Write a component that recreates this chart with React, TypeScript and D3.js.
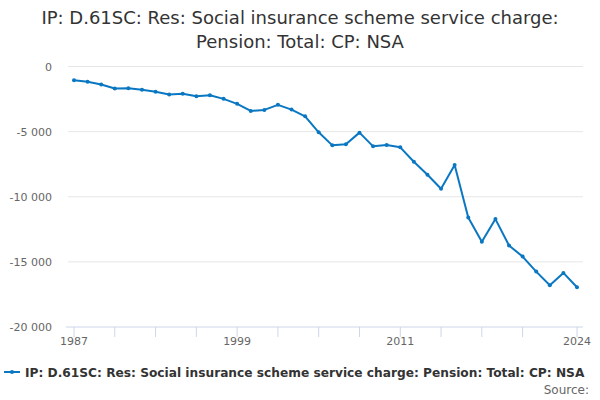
import { useRef, useEffect } from 'react';
import * as d3 from 'd3';

// Annual values, 1987–2024
const YEARS = d3.range(1987, 2025);
const VALUES = [
  -1054, -1177, -1385, -1692, -1669, -1792, -1946, -2154, -2100, -2285,
  -2208, -2485, -2869, -3408, -3331, -2946, -3308, -3823, -5054, -6054,
  -5977, -5077, -6131, -6023, -6208, -7308, -8308, -9385, -7562, -11592,
  -13462, -11715, -13746, -14592, -15746, -16792, -15846, -16946,
];
const Y_TICKS = [0, -5000, -10000, -15000, -20000];
const X_TICKS = [1987, 1990, 1993, 1996, 1999, 2002, 2005, 2008, 2011, 2014, 2017, 2020, 2024];
const X_LABELS = [1987, 1999, 2011, 2024];

const TITLE = ['IP: D.61SC: Res: Social insurance scheme service charge:', 'Pension: Total: CP: NSA'];
const SERIES = 'IP: D.61SC: Res: Social insurance scheme service charge: Pension: Total: CP: NSA';
const COLOR = '#0a77c2';
const FONT = '"DejaVu Sans", sans-serif';

export default function App() {
  const ref = useRef<SVGSVGElement>(null);

  useEffect(() => {
    const svg = ref.current;
    if (!svg) return;
    const W = 600, H = 400;
    const padL = 66, padR = 17, padT = 66.5, padB = 73;

    d3.select(svg).selectAll('*').remove();
    const g = d3.select(svg).attr('viewBox', `0 0 ${W} ${H}`).append('g');

    const x = d3.scaleLinear().domain([1987, 2024]).range([74, 577]);
    const y = d3.scaleLinear().domain([0, -20000]).range([padT, H - padB]);

    // Title
    TITLE.forEach((t, i) => {
      g.append('text').attr('x', W / 2).attr('y', 24 + i * 24).attr('text-anchor', 'middle')
        .attr('font-size', 18).attr('font-family', FONT).attr('fill', '#333333').text(t);
    });

    // Grid + y labels
    Y_TICKS.forEach((v) => {
      if (v !== -20000) {
        g.append('line').attr('x1', 68).attr('x2', W - padR).attr('y1', y(v)).attr('y2', y(v))
          .attr('stroke', '#e6e6e6').attr('stroke-width', 1);
      }
      g.append('text').attr('x', 52).attr('y', y(v) + 4).attr('text-anchor', 'end')
        .attr('font-size', 11).attr('font-family', FONT).attr('fill', '#666666')
        .text(d3.format(',')(v).replace(',', ' ').replace('−', '-'));
    });

    // X axis
    const axisY = y(-20000);
    g.append('line').attr('x1', padL).attr('x2', W - padR).attr('y1', axisY).attr('y2', axisY)
      .attr('stroke', '#ccd6eb').attr('stroke-width', 1);
    X_TICKS.forEach((v) => {
      g.append('line').attr('x1', x(v)).attr('x2', x(v)).attr('y1', axisY).attr('y2', axisY + 10)
        .attr('stroke', '#ccd6eb').attr('stroke-width', 1);
    });
    X_LABELS.forEach((v) => {
      g.append('text').attr('x', x(v)).attr('y', axisY + 18).attr('text-anchor', 'middle')
        .attr('font-size', 11).attr('font-family', FONT).attr('fill', '#666666').text(v);
    });

    // Series
    const data = YEARS.map((yr, i) => ({ yr, v: VALUES[i] }));
    const line = d3.line<(typeof data)[0]>().x((d) => x(d.yr)).y((d) => y(d.v));
    g.append('path').datum(data).attr('d', line).attr('fill', 'none')
      .attr('stroke', COLOR).attr('stroke-width', 2).attr('stroke-linejoin', 'round');
    g.selectAll('circle.pt').data(data).enter().append('circle')
      .attr('cx', (d) => x(d.yr)).attr('cy', (d) => y(d.v)).attr('r', 2).attr('fill', COLOR);

    // Legend
    g.append('line').attr('x1', 4).attr('x2', 20).attr('y1', 372).attr('y2', 372)
      .attr('stroke', COLOR).attr('stroke-width', 2);
    g.append('circle').attr('cx', 12).attr('cy', 372).attr('r', 2).attr('fill', COLOR);
    g.append('text').attr('x', 25).attr('y', 377).attr('font-size', 12.2).attr('font-weight', 'bold')
      .attr('font-family', FONT).attr('fill', '#333333').text(SERIES);

    // Source
    g.append('text').attr('x', 589).attr('y', 394).attr('text-anchor', 'end').attr('font-size', 12)
      .attr('font-family', FONT).attr('fill', '#666666').text('Source:');
  }, []);

  return (
    <svg ref={ref} width={600} height={400}
      style={{ position: 'absolute', left: 0, top: 0, background: '#ffffff' }} />
  );
}
